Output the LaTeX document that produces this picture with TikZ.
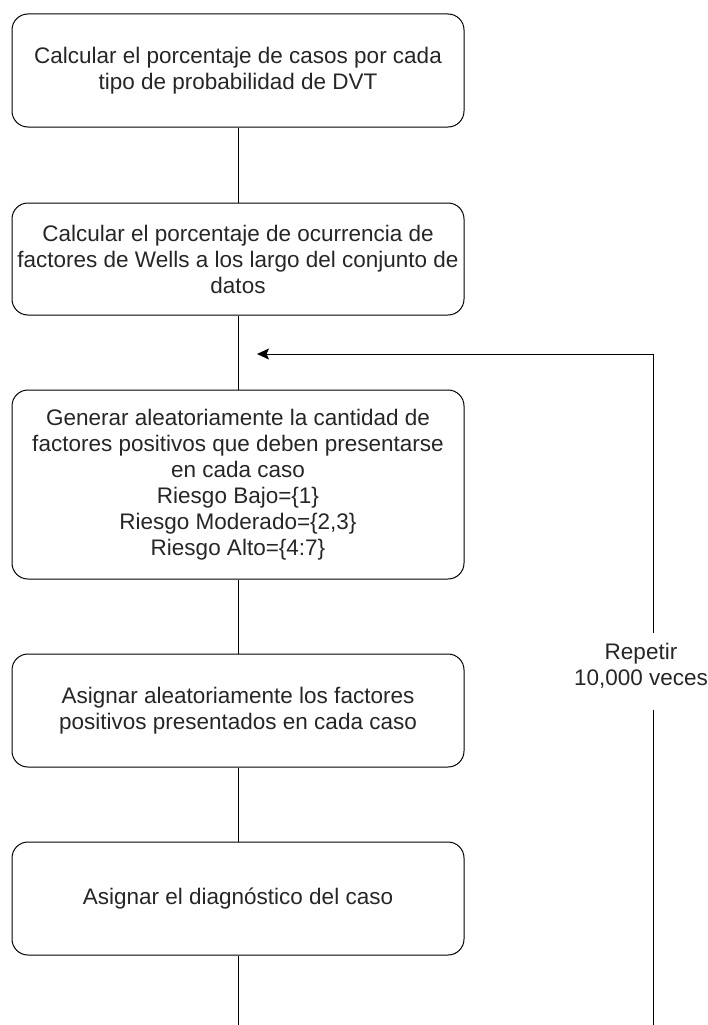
\documentclass[tikz,border=0pt]{standalone}
\usepackage{fontspec}
\setmainfont{Liberation Sans}
\usetikzlibrary{arrows.meta}
\begin{document}
\begin{tikzpicture}[x=1pt,y=1pt,
  box/.style={draw=black, line width=1pt, rounded corners=16pt, minimum width=452pt,
    align=center, inner sep=0pt, text=black!85,
    font=\fontsize{22.5}{26}\selectfont},
  conn/.style={draw=black, line width=1pt},
  lbl/.style={align=center, inner sep=0pt, text=black!85, font=\fontsize{22.5}{26}\selectfont}]
\useasboundingbox (0,0) rectangle (708,-1025);
\node[box, minimum height=113pt] (b1) at (238,-70.5) {Calcular el porcentaje de casos por cada\\tipo de probabilidad de DVT};
\node[box, minimum height=112pt] (b2) at (238,-259) {Calcular el porcentaje de ocurrencia de\\factores de Wells a los largo del conjunto de\\datos};
\node[box, minimum height=189pt] (b3) at (238,-484.5) {Generar aleatoriamente la cantidad de\\factores positivos que deben presentarse\\en cada caso\\Riesgo Bajo=\{1\}\\Riesgo Moderado=\{2,3\}\\Riesgo Alto=\{4:7\}};
\node[box, minimum height=113pt] (b4) at (238,-710.5) {Asignar aleatoriamente los factores\\positivos presentados en cada caso};
\node[box, minimum height=113pt] (b5) at (238,-898.5) {Asignar el diagnóstico del caso};
\coordinate (endc) at (238,-1025);
\node[lbl] (rep) at (641,-666) {Repetir\\10,000 veces};
\coordinate (rbot) at (653,-1025);
\coordinate (rlow) at (653,-710);
\coordinate (rhigh) at (653,-633);
\coordinate (rtop) at (653,-354);
\coordinate (tip) at (257,-354);
\draw[conn] (b1.south) -- (b2.north);
\draw[conn] (b2.south) -- (b3.north);
\draw[conn] (b3.south) -- (b4.north);
\draw[conn] (b4.south) -- (b5.north);
\draw[conn] (b5.south) -- (endc);
\draw[conn] (rbot) -- (rlow);
\draw[conn, -{Stealth[length=12pt,width=11pt,inset=2.5pt]}] (rhigh) -- (rtop) -- (tip);
\end{tikzpicture}
\end{document}
